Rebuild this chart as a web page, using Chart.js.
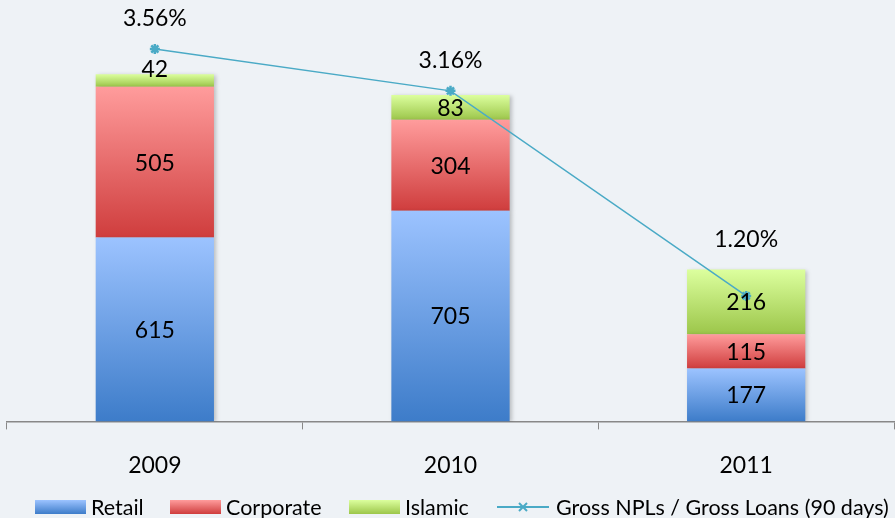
<!DOCTYPE html>
<html>
<head>
<meta charset="utf-8">
<script src="https://cdn.jsdelivr.net/npm/chart.js@4/dist/chart.umd.min.js"></script>
<style>
  html, body { margin: 0; padding: 0; background: #eef2f6; overflow: hidden; }
  canvas { display: block; }
</style>
</head>
<body>
<canvas id="npl" width="895" height="518"></canvas>
<script>
const years = ['2009', '2010', '2011'];
const retail = [615, 705, 177];
const corporate = [505, 304, 115];
const islamic = [42, 83, 216];
const nplRatio = [3.56, 3.16, 1.20];

const barSeries = [retail, corporate, islamic];
const FONT = 'Lato, "Open Sans", sans-serif';

const cols = {
  retail: ['#9cc3ff', '#3d7cc9'],
  corporate: ['#ff9c9c', '#cf3d3d'],
  islamic: ['#dcff9e', '#9cc64a'],
  line: '#4aaac6'
};

// vertical gradient for each stacked segment
function segGradient(top, bottom) {
  return (c) => {
    const chart = c.chart;
    if (!chart.chartArea || c.type !== 'data') return bottom;
    const y = chart.scales.y;
    let base = 0;
    for (let k = 0; k < c.datasetIndex; k++) base += barSeries[k][c.dataIndex];
    const v = barSeries[c.datasetIndex][c.dataIndex];
    const g = chart.ctx.createLinearGradient(0, y.getPixelForValue(base + v), 0, y.getPixelForValue(base));
    g.addColorStop(0, top);
    g.addColorStop(1, bottom);
    return g;
  };
}

const bgPlugin = {
  id: 'bg',
  beforeDraw(chart) {
    const c = chart.ctx;
    c.save(); c.fillStyle = '#eef2f6'; c.fillRect(0, 0, chart.width, chart.height); c.restore();
  }
};

const shadowPlugin = {
  id: 'barShadow',
  beforeDatasetDraw(chart, args) {
    if (args.meta.type !== 'bar') return;
    const c = chart.ctx;
    c.save();
    c.shadowColor = 'rgba(0,0,0,0.22)';
    c.shadowBlur = 4;
    c.shadowOffsetX = 2;
    c.shadowOffsetY = 1;
  },
  afterDatasetDraw(chart, args) {
    if (args.meta.type !== 'bar') return;
    chart.ctx.restore();
  }
};

const labelPlugin = {
  id: 'valueLabels',
  afterDatasetsDraw(chart) {
    const c = chart.ctx;
    c.save();
    c.fillStyle = '#000';
    c.textAlign = 'center';
    c.textBaseline = 'middle';
    c.font = '23px ' + FONT;
    const tops = [];
    chart.data.datasets.forEach((ds, di) => {
      const meta = chart.getDatasetMeta(di);
      if (meta.type !== 'bar') return;
      meta.data.forEach((el, i) => {
        const h = el.base - el.y;
        let y = (el.y + el.base) / 2;
        if (h < 18) y = el.y - 6;
        c.fillText(ds.data[i], el.x, y + 1);
        tops[i] = Math.min(tops[i] ?? Infinity, el.y);
      });
    });
    const lm = chart.getDatasetMeta(3);
    lm.data.forEach((pt, i) => {
      const y = Math.min(pt.y, tops[i]) - 30;
      c.fillText(nplRatio[i].toFixed(2) + '%', pt.x, y);
    });
    c.restore();
  }
};

// bottom legend, laid out like the original
const legendPlugin = {
  id: 'bottomLegend',
  afterDraw(chart) {
    const c = chart.ctx;
    const yMid = chart.height - 11;
    const items = [
      { text: 'Retail', col: cols.retail, x: 35 },
      { text: 'Corporate', col: cols.corporate, x: 170 },
      { text: 'Islamic', col: cols.islamic, x: 349 },
      { text: chart.data.datasets[3].label, line: cols.line, x: 497 }
    ];
    c.save();
    c.font = '21.5px ' + FONT;
    c.textBaseline = 'middle';
    c.fillStyle = '#000';
    items.forEach(it => {
      if (it.col) {
        const g = c.createLinearGradient(0, yMid - 7, 0, yMid + 7);
        g.addColorStop(0, it.col[0]); g.addColorStop(1, it.col[1]);
        c.fillStyle = g;
        c.fillRect(it.x, yMid - 7, 51, 14);
      } else {
        c.strokeStyle = it.line; c.lineWidth = 2;
        c.beginPath(); c.moveTo(it.x, yMid); c.lineTo(it.x + 52, yMid); c.stroke();
        const mx = it.x + 26;
        c.beginPath();
        c.moveTo(mx - 4, yMid - 4); c.lineTo(mx + 4, yMid + 4);
        c.moveTo(mx + 4, yMid - 4); c.lineTo(mx - 4, yMid + 4);
        c.moveTo(mx - 5, yMid); c.lineTo(mx + 5, yMid);
        c.stroke();
      }
      c.fillStyle = '#000';
      c.fillText(it.text, it.x + (it.col ? 56 : 59), yMid + 1);
    });
    c.restore();
  }
};

new Chart(document.getElementById('npl'), {
  type: 'bar',
  data: {
    labels: years,
    datasets: [
      { label: 'Retail', data: retail, backgroundColor: segGradient(...cols.retail), stack: 's', order: 2 },
      { label: 'Corporate', data: corporate, backgroundColor: segGradient(...cols.corporate), stack: 's', order: 2 },
      { label: 'Islamic', data: islamic, backgroundColor: segGradient(...cols.islamic), stack: 's', order: 2 },
      {
        type: 'line', label: 'Gross NPLs / Gross Loans (90 days)', data: nplRatio, yAxisID: 'y2',
        borderColor: cols.line, borderWidth: 1.5, pointStyle: 'star', pointRadius: 5,
        pointBorderColor: cols.line, pointBorderWidth: 2.5, order: 1
      }
    ]
  },
  options: {
    responsive: false,
    animation: false,
    layout: { autoPadding: false, padding: { left: 7, right: 1, top: 3, bottom: 17 } },
    datasets: { bar: { categoryPercentage: 0.8, barPercentage: 0.5 } },
    scales: {
      x: {
        stacked: true,
        grid: { offset: true, drawOnChartArea: false, drawTicks: true, tickLength: 8, color: '#888' },
        border: { color: '#888', width: 1.5 },
        ticks: { color: '#000', font: { family: FONT, size: 23 }, padding: 22 }
      },
      y: { stacked: true, display: false, min: 0, max: 1400 },
      y2: { display: false, min: 0, max: 4 }
    },
    plugins: {
      tooltip: { enabled: false },
      legend: { display: false }
    }
  },
  plugins: [bgPlugin, shadowPlugin, labelPlugin, legendPlugin]
});
</script>
</body>
</html>
